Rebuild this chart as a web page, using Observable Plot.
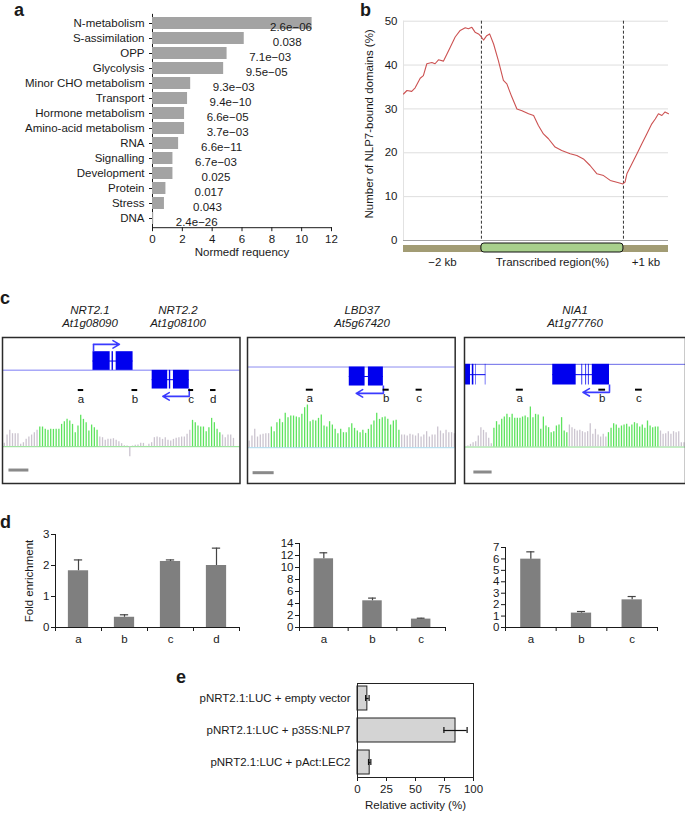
<!DOCTYPE html>
<html><head><meta charset="utf-8">
<script src="https://cdn.jsdelivr.net/npm/d3@7"></script>
<script src="https://cdn.jsdelivr.net/npm/@observablehq/plot@0.6"></script>
<style>
body{margin:0;background:#fff;}
#fig{position:relative;width:685px;height:815px;overflow:hidden;font-family:"Liberation Sans",Arial,Helvetica,sans-serif;color:#1a1a1a;background:#fff;}
.abs{position:absolute;}
.plab{position:absolute;font-weight:bold;font-size:18px;line-height:20px;}
.gt{position:absolute;font-style:italic;font-size:11.5px;line-height:13px;transform:translateX(-50%);white-space:nowrap;text-align:center;}
</style></head><body><div id="fig"></div>
<script>
// ---------------- DATA ----------------
// Panel a
const aCategories = ["N-metabolism","S-assimilation","OPP","Glycolysis","Minor CHO metabolism","Transport","Hormone metabolism","Amino-acid metabolism","RNA","Signalling","Development","Protein","Stress","DNA"];
const aFrequency = [10.7,6.15,5.0,4.77,2.56,2.35,2.15,2.15,1.75,1.37,1.37,0.9,0.8,0.08];
const aPValues = ["2.6e−06","0.038","7.1e−03","9.5e−05","9.3e−03","9.4e−10","6.6e−05","3.7e−03","6.6e−11","6.7e−03","0.025","0.017","0.043","2.4e−26"];
const aTicks = [0,2,4,6,8,10,12];
const aXLabel = "Normedf requency";

// Panel b (position along metagene, 0 = −2 kb, 100 = +1 kb)
const bPosition = [0,1.3,3.1,4.4,6.3,7.5,8.8,10.7,11.9,13.2,15.1,16.4,17.6,19.5,21.4,23.3,24.5,25.8,27.0,28.3,29.4,30.2,31.4,32.5,34.0,35.8,37.7,39.0,40.9,42.8,44.7,47.2,49.1,50.9,52.8,54.7,57.2,59.7,62.9,65.4,67.9,70.4,73.0,75.5,78.0,80.5,82.8,83.6,84.3,86.2,88.1,89.9,91.8,93.7,95.0,96.2,97.5,98.7,100];
const bPercent = [33.4,34.2,34.0,34.8,37.0,37.6,40.3,40.6,40.3,41.2,40.9,42.5,44.0,46.4,47.9,48.5,48.3,48.6,47.5,47.1,46.4,45.7,46.7,47.1,44.8,41.0,36.5,35.7,32.7,30.0,29.6,28.9,28.5,26.2,24.3,23.2,21.3,20.5,19.8,19.4,18.6,17.1,15.2,14.8,13.7,13.3,12.9,13.3,15.2,17.5,19.8,22.0,24.3,26.6,27.7,28.9,28.5,29.3,28.9];
const bBounds = [0,29.4,83,100];
const bRegionLabels = ["−2 kb","Transcribed region(%)","+1 kb"];
const bTicks = [0,10,20,30,40,50];
const bYLabel = "Number of NLP7-bound domains (%)";

// Panel c (signal per bin; bound = enriched bin ranges)
const c1Signal = [10,35,49,39,39,39,7,12,22,29,35,42,49,59,59,52,49,52,52,52,52,67,75,82,77,67,42,62,94,82,72,47,65,57,49,29,27,19,22,22,24,19,15,9,3,2,-30,2,4,5,10,10,1,7,12,27,29,27,22,27,19,17,22,25,27,29,29,37,49,79,72,62,59,59,45,57,85,72,52,42,35,27,35,35,25];
const c1Bound = [[13,34],[69,79]];
const c2Signal = [20,35,55,32,38,40,42,42,62,48,75,85,75,103,90,95,95,92,90,100,120,128,78,82,80,88,98,65,62,78,68,55,42,55,45,45,60,72,58,50,45,52,43,55,68,80,103,85,90,92,85,68,80,82,52,38,38,35,40,38,35,42,32,38,48,32,38,38,62,50,42,52,45,45,42];
const c2Bound = [[8,54]];
const c3Signal = [3,8,13,16,33,58,50,43,26,10,56,76,66,83,90,98,88,98,86,86,86,90,93,88,120,88,98,96,53,90,63,58,43,46,63,66,88,48,43,66,58,53,48,50,46,43,46,70,38,53,36,30,38,30,43,56,70,66,56,63,66,68,60,66,73,70,60,66,56,78,63,58,60,60,48,38,40,46,38,46,43,46,13,13];
const c3Bound = [[10,38],[54,73]];
const cGeneNames = [["NRT2.1","At1g08090"],["NRT2.2","At1g08100"],["LBD37","At5g67420"],["NIA1","At1g77760"]];
const nrt21Exons = [[32.5,38.8],[39.5,40.0],[41.0,47.2]];
const nrt21Tss = [32.7,42.2];
const nrt22Exons = [[54.2,59.9],[60.5,61.0],[62.0,67.8]];
const nrt22Tss = [67.8,58.1];
const lbd37Exons = [[36.1,41.8],[43.0,48.4]];
const lbd37Tss = [48.4,38.6];
const neighbourExons = [[-1.3,1.0],[1.7,2.3],[3.0,3.2],[6.7,6.9]];
const nia1Exons = [[32.6,41.6],[43.8,44.1],[45.3,45.6],[46.3,46.6],[47.8,54.4]];
const nia1Tss = [54.4,44.2];
const c1Fragments = [["a",27.1,29.1],["b",46.8,48.9],["c",67.6,69.4],["d",75.6,77.6]];
const c2Fragments = [["a",20.6,23.1],["b",48.3,50.5],["c",60.2,62.4]];
const c3Fragments = [["a",18.6,21.3],["b",50.3,52.9],["c",64.4,67.0]];
const c1ScaleBar = [1.7,9.0];
const c2ScaleBar = [1.4,9.0];
const c3ScaleBar = [2.3,9.3];

// Panel d
const d1Fragments = ["a","b","c","d"];
const d1Enrichment = [1.83,0.33,2.13,2.0];
const d1ErrorTop = [2.18,0.41,2.18,2.56];
const d2Fragments = ["a","b","c"];
const d2Enrichment = [11.45,4.45,1.4];
const d2ErrorTop = [12.45,4.9,1.55];
const d3Fragments = ["a","b","c"];
const d3Enrichment = [5.98,1.26,2.42];
const d3ErrorTop = [6.62,1.4,2.71];
const dYLabel = "Fold enrichment";

// Panel e
const eConstructs = ["pNRT2.1:LUC + empty vector","pNRT2.1:LUC + p35S:NLP7","pNRT2.1:LUC + pAct:LEC2"];
const eActivity = [8.5,84.5,10.5];
const eError = [1.5,10,1];
const eTicks = [0,25,50,75,100];
const eXLabel = "Relative activity (%)";

// ---------------- LAYOUT ----------------
const FONT = '"Liberation Sans", Arial, Helvetica, sans-serif';
const style = {fontFamily: FONT, fontSize: "11.5px", color: "#1a1a1a", background: "transparent", overflow: "visible"};
const fig = document.getElementById("fig");
function place(node, left, top, width) {
  const d = document.createElement("div");
  d.className = "abs";
  d.style.left = left + "px"; d.style.top = top + "px"; d.style.width = width + "px";
  d.appendChild(node); fig.appendChild(d);
}
function label(txt, left, top, cls) {
  const d = document.createElement("div");
  d.className = cls; d.textContent = txt;
  d.style.left = left + "px"; d.style.top = top + "px";
  fig.appendChild(d);
}

// Panel letters
label("a", 14, 0, "plab");
label("b", 360, 0, "plab");
label("c", 0, 288, "plab");
label("d", 0, 512, "plab");
label("e", 176, 667, "plab");

// ---- Panel a
const aRows = aCategories.map((c, i) => ({c, f: aFrequency[i], p: aPValues[i]}));
place(Plot.plot({
  width: 340, height: 265, marginLeft: 152, marginRight: 9, marginTop: 13.85, marginBottom: 37.8, style,
  x: {domain: [0, 12], ticks: aTicks, tickSize: 4, tickPadding: 3, line: true, label: null},
  y: {domain: aCategories, padding: 0.22, tickSize: 3, tickPadding: 5, line: true, label: null},
  marks: [
    Plot.barX(aRows, {x: "f", y: "c", fill: "#a3a3a3"}),
    Plot.text(aRows, {x: d => Math.min(d.f, 6.4), y: "c", text: "p", dx: 43, dy: 4, fill: "#1a1a1a"}),
    Plot.text([aXLabel], {frameAnchor: "bottom", dy: 28, text: d => d, fill: "#1a1a1a"})
  ]
}), 0, 0, 340);

// ---- Panel b
const bRows = bPosition.map((p, i) => ({p, v: bPercent[i]}));
place(Plot.plot({
  width: 340, height: 245, marginLeft: 58, marginRight: 17, marginTop: 20.7, marginBottom: 5, style,
  x: {domain: [0, 100], axis: null},
  y: {domain: [0, 50], ticks: bTicks, tickSize: 0, tickPadding: 6, tickFormat: d => String(d), label: null},
  marks: [
    Plot.ruleY(bTicks.filter(t => t > 0), {stroke: "#dedede"}),
    Plot.ruleX([bBounds[0]], {stroke: "#e2e2e2"}),
    Plot.ruleY([0], {stroke: "#a0a0a0"}),
    Plot.ruleX([bBounds[1], bBounds[2]], {stroke: "#333", strokeDasharray: "3,2"}),
    Plot.line(bRows, {x: "p", y: "v", stroke: "#cc5252", strokeWidth: 1.1}),
    Plot.text([bYLabel], {frameAnchor: "left", textAnchor: "middle", dx: -34, dy: -7, rotate: -90, text: d => d, fill: "#1a1a1a"})
  ]
}), 345, 0, 340);
const bSegs = [[bBounds[0], bBounds[1]], [bBounds[1], bBounds[2]], [bBounds[2], bBounds[3]]];
place(Plot.plot({
  width: 340, height: 40, marginLeft: 58, marginRight: 17, marginTop: 3, marginBottom: 25, style,
  x: {domain: [0, 100], axis: null},
  marks: [
    Plot.rect([bBounds], {x1: d => d[0], x2: d => d[3], insetTop: 2, insetBottom: 3, fill: "#a29c74"}),
    Plot.rect([bBounds], {x1: d => d[1], x2: d => d[2], insetTop: 0, insetBottom: 3, fill: "#a8d08c", stroke: "#111", rx: 3}),
    Plot.text(bSegs, {x: d => (d[0] + d[1]) / 2, text: (d, i) => bRegionLabels[i], frameAnchor: "bottom", dy: 10, fill: "#1a1a1a"})
  ]
}), 345, 240, 340);

// ---- Panel c
const BLUE = "#0000ee", ARROW = "#3a3aff";
function browser(o) {
  const rows = o.signal.map((v, i) => ({i, v}));
  const isBound = d => o.bound.some(([a, b]) => d.i >= a && d.i <= b);
  const marks = [
    Plot.ruleY([o.G], {stroke: o.lineColor, strokeWidth: o.lineWidth}),
    Plot.ruleY([0], {stroke: o.baseColor}),
    Plot.ruleX(rows.filter(d => !isBound(d)), {x: "i", y1: 0, y2: "v", stroke: "#cbc4cf", strokeWidth: 1.3}),
    Plot.ruleX(rows.filter(isBound), {x: "i", y1: 0, y2: "v", stroke: "#5ee35e", strokeWidth: 1.3})
  ];
  for (const g of o.genes) {
    const y2 = o.G + g.strand * o.exonH;
    marks.push(Plot.ruleY([o.G + g.strand * o.exonH / 2], {x1: g.exons[0][0], x2: g.exons[g.exons.length - 1][1], stroke: BLUE, strokeWidth: 1}));
    marks.push(Plot.rect(g.exons, {x1: d => d[0], x2: d => d[1], y1: o.G, y2: y2, fill: BLUE}));
    if (g.tss) {
      const ya = y2 + g.strand * 22;
      marks.push(Plot.ruleX([g.tss[0]], {y1: y2, y2: ya, stroke: ARROW, strokeWidth: 1.6}));
      marks.push(Plot.arrow([g.tss], {x1: d => d[0], y1: ya, x2: d => d[1], y2: ya, stroke: ARROW, strokeWidth: 1.6, headLength: 7}));
    }
  }
  marks.push(Plot.ruleY(o.fragments, {y: o.fragY, x1: d => d[1], x2: d => d[2], stroke: "#000", strokeWidth: 2}));
  marks.push(Plot.text(o.fragments, {x: d => (d[1] + d[2]) / 2, y: o.fragY, dy: 9, text: d => d[0], fill: "#1a1a1a"}));
  marks.push(Plot.ruleY([o.scaleY], {x1: o.scaleBar[0], x2: o.scaleBar[1], stroke: "#8a8a8a", strokeWidth: 3}));
  marks.push(Plot.frame({stroke: "#2b2b2b", strokeWidth: 1.5}));
  return Plot.plot({width: o.width, height: o.height, margin: 0, style,
    x: {domain: o.xDomain, axis: null}, y: {domain: o.yDomain, axis: null}, marks});
}
place(browser({signal: c1Signal, bound: c1Bound, width: 237.5, height: 146, xDomain: [-0.67, 86.4], yDomain: [-110.4, 327.6],
  G: 229, exonH: 56, fragY: 170, scaleY: -70, lineColor: "#a8a8f8", lineWidth: 1.5, baseColor: "#88e088",
  genes: [{exons: nrt21Exons, strand: 1, tss: nrt21Tss}, {exons: nrt22Exons, strand: -1, tss: nrt22Tss}],
  fragments: c1Fragments, scaleBar: c1ScaleBar}), 1.5, 336.5, 237.5);
place(browser({signal: c2Signal, bound: c2Bound, width: 207.7, height: 146, xDomain: [-0.61, 74.3], yDomain: [-107.4, 330.6],
  G: 242, exonH: 57, fragY: 174, scaleY: -75, lineColor: "#8c8cf0", lineWidth: 1, baseColor: "#a8dcef",
  genes: [{exons: lbd37Exons, strand: -1, tss: lbd37Tss}],
  fragments: c2Fragments, scaleBar: c2ScaleBar}), 247.3, 336.5, 207.7);
place(browser({signal: c3Signal, bound: c3Bound, width: 221, height: 146, xDomain: [-1.3, 83.6], yDomain: [-109.5, 328.5],
  G: 248, exonH: 62, fragY: 172, scaleY: -75, lineColor: "#6a6ae8", lineWidth: 1, baseColor: "#88e088",
  genes: [{exons: neighbourExons, strand: -1}, {exons: nia1Exons, strand: -1, tss: nia1Tss}],
  fragments: c3Fragments, scaleBar: c3ScaleBar}), 464, 336.5, 221);
const cTitleX = [90, 178, 362, 575];
cGeneNames.forEach(([n, id], i) => { label(n, cTitleX[i], 304, "gt"); label(id, cTitleX[i], 317, "gt"); });

// ---- Panel d
function enrich(o) {
  const rows = o.cats.map((c, i) => ({c, i, v: o.vals[i], t: o.tops[i]}));
  const n = o.cats.length;
  return Plot.plot({
    width: o.width, height: 135, marginLeft: o.ml, marginRight: o.mr, marginTop: o.mt, marginBottom: 28, style,
    x: {domain: [0, n], ticks: d3.range(n + 1), tickFormat: () => "", tickSize: 4, line: true, label: null},
    y: {domain: [0, o.yMax], ticks: d3.range(0, o.yMax + 0.001, o.yStep), tickFormat: d => String(Math.round(d)), tickSize: 4, tickPadding: 2, line: true, label: null},
    marks: [
      Plot.rectY(rows, {x1: d => d.i + 0.5 - o.hw, x2: d => d.i + 0.5 + o.hw, y1: 0, y2: "v", fill: "#7f7f7f"}),
      Plot.ruleX(rows, {x: d => d.i + 0.5, y1: "v", y2: "t", stroke: "#444", strokeWidth: 1.2}),
      Plot.ruleY(rows, {y: "t", x1: d => d.i + 0.5 - o.cap, x2: d => d.i + 0.5 + o.cap, stroke: "#444", strokeWidth: 1.2}),
      Plot.text(rows, {x: d => d.i + 0.5, text: "c", frameAnchor: "bottom", dy: 15, fill: "#1a1a1a"}),
      ...(o.ylabel ? [Plot.text([o.ylabel], {frameAnchor: "left", textAnchor: "middle", dx: -26, rotate: -90, text: d => d, fill: "#1a1a1a"})] : [])
    ]
  });
}
place(enrich({cats: d1Fragments, vals: d1Enrichment, tops: d1ErrorTop, yMax: 3, yStep: 1, width: 241, ml: 55, mr: 2, mt: 14, hw: 0.22, cap: 0.09, ylabel: dYLabel}), 0, 520, 241);
place(enrich({cats: d2Fragments, vals: d2Enrichment, tops: d2ErrorTop, yMax: 14, yStep: 2, width: 210, ml: 59, mr: 5, mt: 23, hw: 0.2, cap: 0.08}), 240, 520, 210);
place(enrich({cats: d3Fragments, vals: d3Enrichment, tops: d3ErrorTop, yMax: 7, yStep: 1, width: 230, ml: 55, mr: 23, mt: 27, hw: 0.2, cap: 0.08}), 450, 520, 230);

// ---- Panel e
const eRows = eConstructs.map((c, i) => ({c, v: eActivity[i], e: eError[i]}));
place(Plot.plot({
  width: 340, height: 140, marginLeft: 207, marginRight: 17, marginTop: 8, marginBottom: 38, style,
  x: {domain: [0, 100], ticks: eTicks, tickSize: 4, tickPadding: 3, label: null},
  y: {domain: eConstructs, paddingInner: 0.26, paddingOuter: 0.075, tickSize: 0, tickPadding: 7, label: null},
  marks: [
    Plot.barX(eRows, {x: "v", y: "c", fill: "#d4d4d4", stroke: "#222", strokeWidth: 1}),
    Plot.ruleY(eRows, {y: "c", x1: d => d.v - d.e, x2: d => d.v + d.e, stroke: "#111", strokeWidth: 1.2}),
    Plot.tickX(eRows, {x: d => d.v - d.e, y: "c", insetTop: 9, insetBottom: 9, stroke: "#111", strokeWidth: 1.2}),
    Plot.tickX(eRows, {x: d => d.v + d.e, y: "c", insetTop: 9, insetBottom: 9, stroke: "#111", strokeWidth: 1.2}),
    Plot.frame({stroke: "#222"}),
    Plot.text([eXLabel], {frameAnchor: "bottom", dy: 31, text: d => d, fill: "#1a1a1a"})
  ]
}), 150, 675, 340);
</script></body></html>
